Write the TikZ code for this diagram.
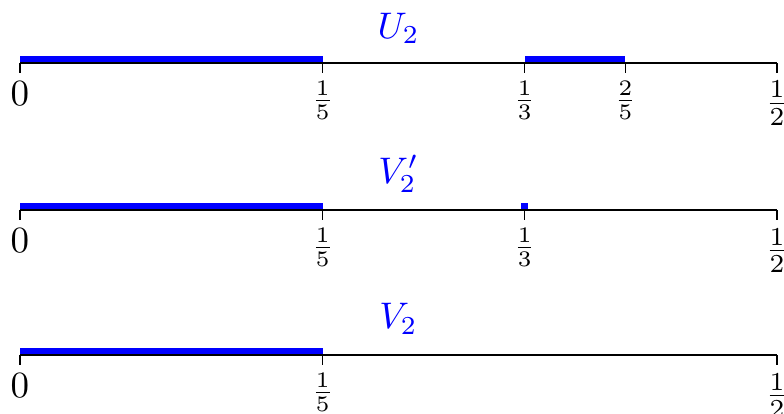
\documentclass[tikz,border=0pt]{standalone}
\usepackage{amsmath}
\usetikzlibrary{positioning}

\begin{document}
\begin{tikzpicture}[
        x=14.38cm, y=1cm,
        axis/.style={line width=0.55pt},
        bar/.style={fill=blue},
        tickmark/.style={line width=0.4pt},
        tlab/.style={inner sep=2pt},
        flab/.style={inner sep=2pt, font=\footnotesize},
        setname/.style={text=blue}
      ]
        \useasboundingbox (-0.0132,0.6) rectangle (0.5047,-3.33);

        % U_2
        \coordinate (ua) at (0,0);
        \coordinate (ub) at (1/2,0);
        \fill[bar] (0,0) rectangle (1/5,0.067);
        \fill[bar] (1/3,0) rectangle (2/5,0.067);
        \draw[axis] (ua) -- (ub);
        \node[setname] (un) at (1/4,0.33) {$U_2$};
        \foreach \t/\n in {0/u0, 0.2/u15, 0.33333/u13, 0.4/u25, 0.5/u12}
          \draw[tickmark] (\t,0) -- ++(0,-0.095) coordinate (\n);
        \node[tlab, below=0pt of u0] (lu0) {$0$};
        \node[flab, below=0pt of u15] (lu15) {$\frac{1}{5}$};
        \node[flab, below=0pt of u13] (lu13) {$\frac{1}{3}$};
        \node[flab, below=0pt of u25] (lu25) {$\frac{2}{5}$};
        \node[tlab, below=0pt of u12] (lu12) {$\frac{1}{2}$};

        % V_2'
        \coordinate (wa) at (0,-1.397);
        \coordinate (wb) at (1/2,-1.397);
        \fill[bar] (0,-1.397) rectangle (1/5,-1.330);
        \fill[bar] (1/3-0.0023,-1.397) rectangle (1/3+0.0023,-1.330);
        \draw[axis] (wa) -- (wb);
        \node[setname] (wn) at (1/4,-1.05) {$V_2'$};
        \foreach \t/\n in {0/w0, 0.2/w15, 0.33333/w13, 0.5/w12}
          \draw[tickmark] (\t,-1.397) -- ++(0,-0.095) coordinate (\n);
        \node[tlab, below=0pt of w0] (lw0) {$0$};
        \node[flab, below=0pt of w15] (lw15) {$\frac{1}{5}$};
        \node[flab, below=0pt of w13] (lw13) {$\frac{1}{3}$};
        \node[tlab, below=0pt of w12] (lw12) {$\frac{1}{2}$};

        % V_2
        \coordinate (va) at (0,-2.774);
        \coordinate (vb) at (1/2,-2.774);
        \fill[bar] (0,-2.774) rectangle (1/5,-2.707);
        \draw[axis] (va) -- (vb);
        \node[setname] (vn) at (1/4,-2.43) {$V_2$};
        \foreach \t/\n in {0/v0, 0.2/v15, 0.5/v12}
          \draw[tickmark] (\t,-2.774) -- ++(0,-0.095) coordinate (\n);
        \node[tlab, below=0pt of v0] (lv0) {$0$};
        \node[flab, below=0pt of v15] (lv15) {$\frac{1}{5}$};
        \node[tlab, below=0pt of v12] (lv12) {$\frac{1}{2}$};
      \end{tikzpicture}
\end{document}
